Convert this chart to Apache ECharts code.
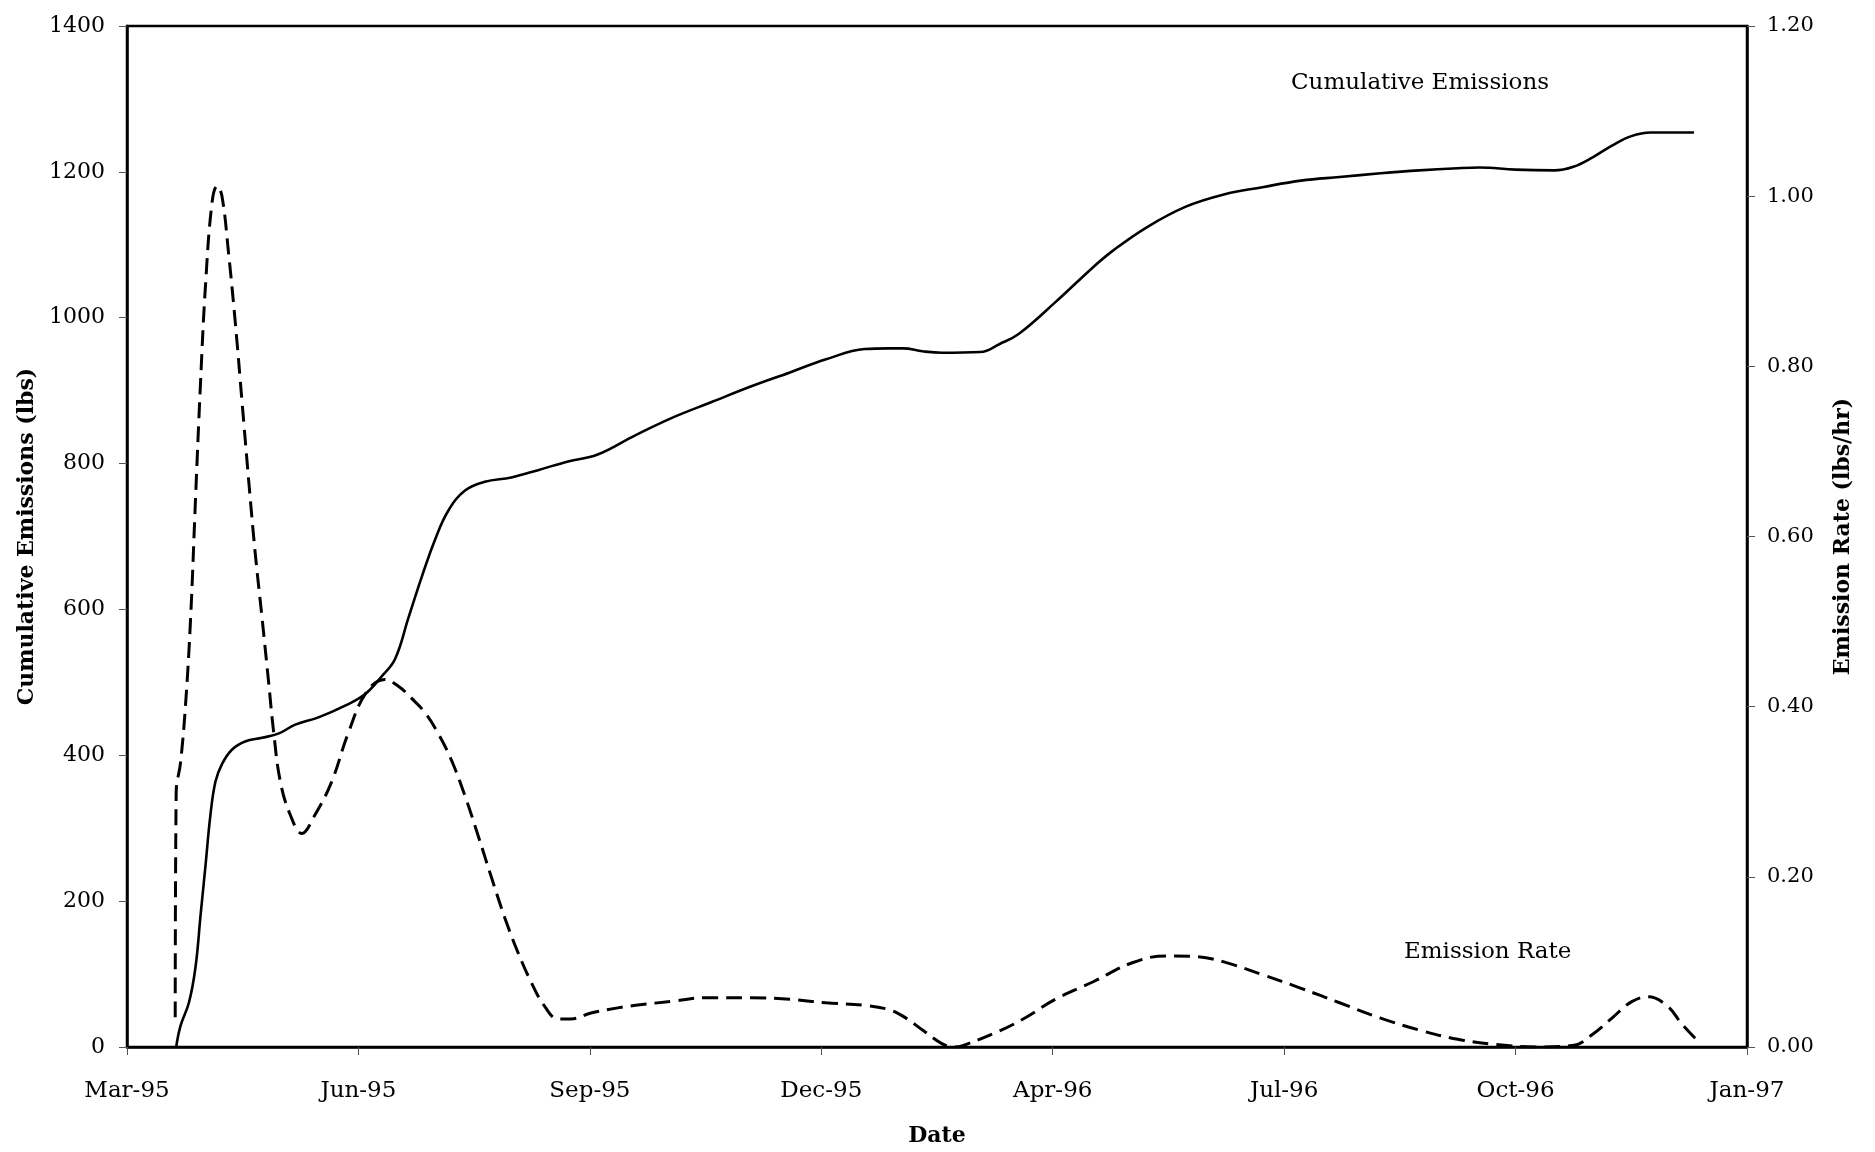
<!DOCTYPE html>
<html>
<head>
<meta charset="utf-8">
<script src="https://cdn.jsdelivr.net/npm/echarts@6/dist/echarts.min.js"></script>
<style>
  html, body { margin: 0; padding: 0; background: #ffffff; }
  #chart { width: 1875px; height: 1152px; }
</style>
</head>
<body>
<div id="chart"></div>
<script>
// x values are days after 15-Mar-1995; one major tick every 96 days
const tickLabels = ['Mar-95', 'Jun-95', 'Sep-95', 'Dec-95', 'Apr-96', 'Jul-96', 'Oct-96', 'Jan-97'];

// Cumulative Emissions (lbs), left axis
const cumDay = [20.4, 22.2, 25.7, 28.4, 30.5, 32.6, 34.6, 36.7, 39.4, 43.6, 49, 56, 63, 69.8, 79.4, 90.5, 98.8, 105.6,
  111.2, 116.7, 122.2, 127.7, 133.2, 140.2, 148.4, 159.4, 170.5, 183, 195, 211, 227, 243, 259, 275, 290, 306, 316,
  322, 330, 338, 354, 362, 370, 385, 401, 409, 423, 439, 455, 471, 487, 503, 520, 536, 552, 561, 576, 592, 600, 608,
  616, 624, 632, 640, 650];
const cumLbs = [0, 29, 61, 109, 180, 250, 318, 364, 388, 408, 419, 424, 430, 442, 452, 468, 484, 508,
  532, 588, 644, 695, 735, 763, 775, 781, 791, 803, 812, 839, 864, 885, 906, 925, 943, 957, 958,
  958, 954, 952, 953, 964, 978, 1021, 1070, 1092, 1124, 1152, 1169, 1179, 1188, 1193, 1198, 1202, 1205, 1206, 1203, 1202, 1207, 1220,
  1236, 1249, 1254, 1254, 1254];

// Emission Rate (lbs/hr), right axis
const rateDay = [20.0, 20.4, 22.2, 24.3, 26.4, 28.4, 30.5, 32.6, 35.3, 37.4, 39.4, 42.2, 45, 47.7, 50.5, 53.2, 56, 58.7,
  60.8, 63.6, 67.7, 72.5, 78, 84.8, 91.9, 99.3, 107, 112.6, 118, 123.6, 129, 134.6, 140.1, 145.7,
  151.1, 156.7, 162.2, 167.7, 173.2, 178.8, 184.2, 192.5, 203.6, 211, 227, 240, 259, 275, 290, 306, 316, 322, 330,
  338, 343, 347, 362, 373, 385, 401, 417, 431, 444, 455, 471, 487, 503, 520, 536, 552, 568, 584, 600, 608, 616, 624,
  631, 639, 645, 652];
const rateLbsHr = [0.035, 0.30, 0.334, 0.403, 0.505, 0.643, 0.781, 0.897, 0.993, 1.012, 1.0, 0.931, 0.849, 0.759, 0.665, 0.58, 0.505, 0.43,
  0.371, 0.312, 0.273, 0.251, 0.273, 0.311, 0.370, 0.417, 0.432, 0.424, 0.410, 0.393, 0.369, 0.337, 0.296, 0.248,
  0.200, 0.152, 0.111, 0.076, 0.048, 0.033, 0.033, 0.040, 0.046, 0.049, 0.054, 0.058, 0.058, 0.056, 0.052, 0.049, 0.044, 0.036, 0.020,
  0.004, 0.0, 0.002, 0.019, 0.035, 0.056, 0.077, 0.099, 0.107, 0.106, 0.100, 0.085, 0.069, 0.052, 0.034, 0.020, 0.009, 0.003, 0.0, 0.002, 0.015, 0.034, 0.053,
  0.059, 0.048, 0.027, 0.006];

const FONT = 'DejaVu Serif';
const chart = echarts.init(document.getElementById('chart'), null, { renderer: 'canvas' });

const axisLineStyle = { color: '#000', width: 2.5 };
const tickStyle = { color: '#555', width: 1 };

chart.setOption({
  backgroundColor: '#ffffff',
  animation: false,
  grid: {
    left: 127, right: 128, top: 26, bottom: 103,
    show: true, borderColor: '#000', borderWidth: 2.5, backgroundColor: 'transparent'
  },
  xAxis: {
    type: 'value',
    min: 0, max: 672, interval: 96,
    name: 'Date',
    nameLocation: 'middle',
    nameGap: 78,
    nameTextStyle: { fontFamily: FONT, fontWeight: 'bold', fontSize: 22, color: '#000' },
    axisLine: { show: true, lineStyle: axisLineStyle },
    axisTick: { show: true, length: 8, lineStyle: tickStyle },
    splitLine: { show: false },
    axisLabel: {
      fontFamily: FONT, fontSize: 23, color: '#000', margin: 33,
      formatter: v => tickLabels[Math.round(v / 96)] || ''
    }
  },
  yAxis: [
    {
      type: 'value', position: 'left',
      min: 0, max: 1400, interval: 200,
      name: 'Cumulative Emissions (lbs)',
      nameLocation: 'middle', nameRotate: 90, nameGap: 88,
      nameTextStyle: { fontFamily: FONT, fontWeight: 'bold', fontSize: 22, color: '#000' },
      axisLine: { show: true, lineStyle: axisLineStyle },
      axisTick: { show: true, length: 8, lineStyle: tickStyle },
      splitLine: { show: false },
      axisLabel: { fontFamily: FONT, fontSize: 22, color: '#000', margin: 22, formatter: v => String(v) }
    },
    {
      type: 'value', position: 'right',
      min: 0, max: 1.2, interval: 0.2,
      name: 'Emission Rate (lbs/hr)',
      nameLocation: 'middle', nameRotate: 90, nameGap: 85,
      nameTextStyle: { fontFamily: FONT, fontWeight: 'bold', fontSize: 22, color: '#000' },
      axisLine: { show: true, lineStyle: axisLineStyle },
      axisTick: { show: true, length: 8, lineStyle: tickStyle },
      splitLine: { show: false },
      axisLabel: { fontFamily: FONT, fontSize: 21, color: '#000', margin: 20, formatter: v => v.toFixed(2) }
    }
  ],
  series: [
    {
      name: 'Cumulative Emissions',
      type: 'line', yAxisIndex: 0,
      data: cumDay.map((d, i) => [d, cumLbs[i]]),
      showSymbol: false, smooth: 0.4,
      lineStyle: { color: '#000', width: 2.6, type: 'solid' }
    },
    {
      name: 'Emission Rate',
      type: 'line', yAxisIndex: 1,
      data: rateDay.map((d, i) => [d, rateLbsHr[i]]),
      showSymbol: false, smooth: 0.4,
      lineStyle: { color: '#000', width: 3, type: [16, 8] }
    }
  ],
  graphic: [
    { type: 'text', left: 1424 - 133, top: 72,
      style: { text: 'Cumulative Emissions', fontFamily: FONT, fontSize: 23, fill: '#000' } },
    { type: 'text', left: 1487 - 83, top: 941,
      style: { text: 'Emission Rate', fontFamily: FONT, fontSize: 23, fill: '#000' } }
  ]
});
</script>
</body>
</html>
